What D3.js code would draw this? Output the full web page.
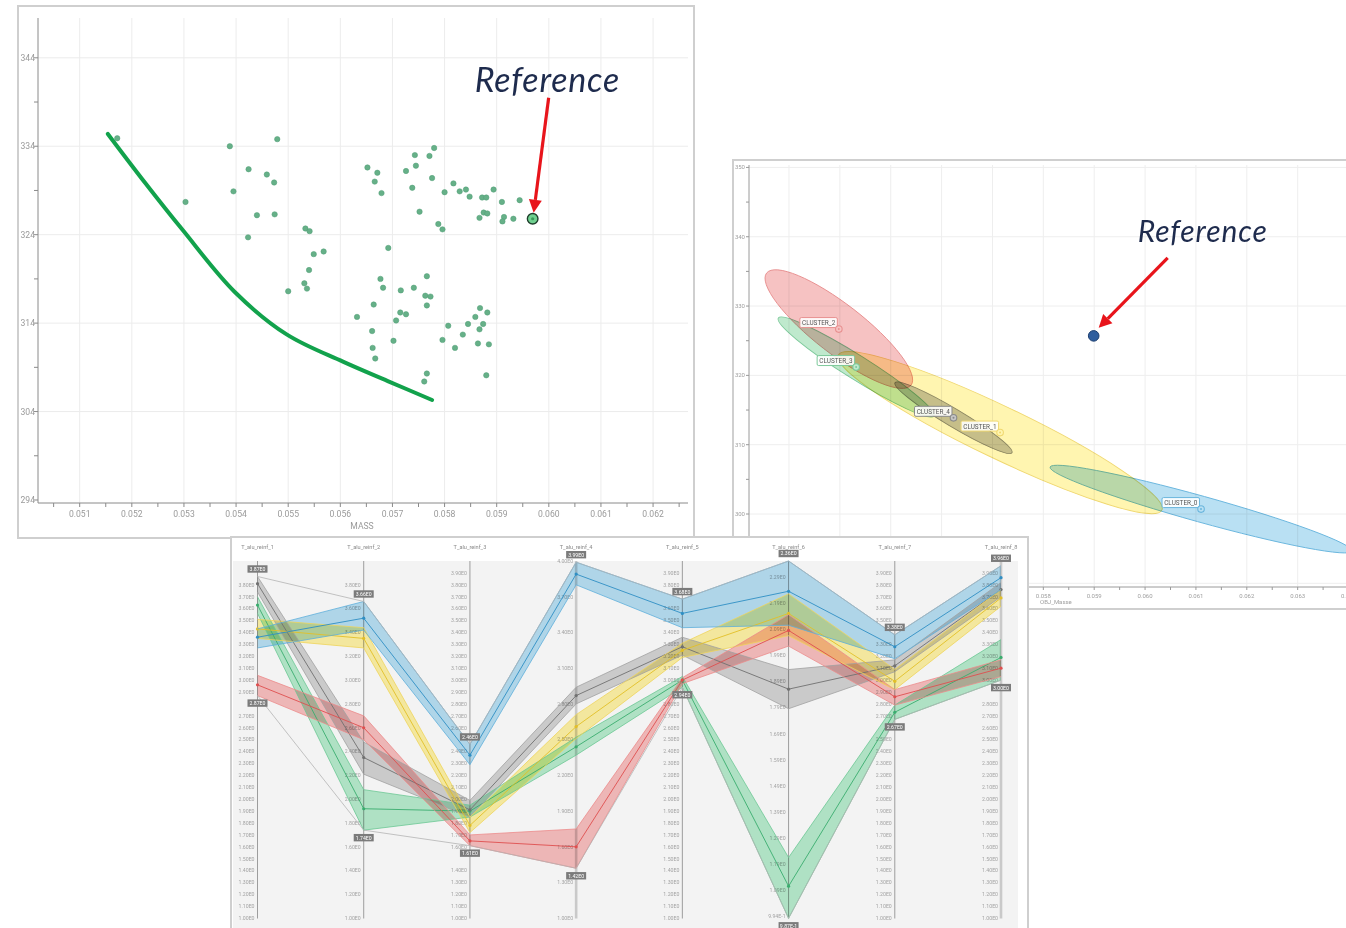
<!DOCTYPE html>
<html><head><meta charset="utf-8">
<script src="https://cdn.jsdelivr.net/npm/d3@7/dist/d3.min.js"></script>
<style>
body{margin:0;background:#fff;}
svg{display:block;font-family:Roboto,"Liberation Sans",sans-serif;}
</style></head><body>
<svg id="c" width="1346" height="928"></svg>
<script>
// ---------------- Panel A data (MASS vs temperature scatter) ----------------
const scatterMass = [0.05172,0.05303,0.05388,0.05395,0.05424,0.05423,0.0544,0.05459,0.05473,0.05474,0.05479,0.05533,0.05541,0.05549,0.05568,0.0554,0.05531,0.05536,0.055,0.05652,0.05671,0.05666,0.05679,0.05726,0.05743,0.05745,0.05738,0.05771,0.0578,0.05776,0.05752,0.058,0.05817,0.05829,0.05841,0.05848,0.05788,0.05796,0.05872,0.0588,0.05894,0.0591,0.05944,0.05875,0.05882,0.05867,0.05914,0.05911,0.05932,0.05692,0.05677,0.05682,0.05766,0.05763,0.05773,0.05766,0.05741,0.05716,0.05664,0.05632,0.05715,0.05726,0.05707,0.05661,0.05702,0.05662,0.05667,0.05766,0.05761,0.05796,0.05807,0.0582,0.05835,0.05845,0.05859,0.05868,0.05882,0.05874,0.05867,0.05864,0.05885,0.0588];
const scatterTemp = [334.9,327.7,334.0,328.9,331.4,323.7,326.2,330.8,329.9,326.3,334.8,324.7,324.4,321.8,322.1,320.0,318.5,317.9,317.6,331.6,331.0,330.0,328.7,331.2,333.0,331.8,329.3,332.9,333.8,330.4,326.6,328.8,329.8,328.9,329.1,328.3,325.2,324.6,328.2,328.2,329.1,327.7,327.9,326.5,326.4,325.9,326.0,325.5,325.8,322.5,319.0,318.0,319.3,317.1,317.0,316.0,318.0,317.7,316.1,314.7,315.2,315.0,314.3,313.1,312.0,311.2,310.0,308.3,307.4,312.1,313.7,311.2,312.7,313.9,314.7,315.7,315.2,313.9,313.3,311.7,311.6,308.1];
const frontMass = [0.05154,0.05225,0.05298,0.05397,0.05497,0.05605,0.05691,0.05776];
const frontTemp = [335.39,329.9,324.49,317.55,312.72,309.64,307.45,305.31];
const refMassA = 0.05969, refTempA = 325.8;
const massTicksA = [0.051,0.052,0.053,0.054,0.055,0.056,0.057,0.058,0.059,0.060,0.061,0.062];
const tempTicksA = [294,304,314,324,334,344];
const xLabelA = "MASS";

// ---------------- Panel B data (cluster ellipses) ----------------
const clusterNames = ["CLUSTER_0","CLUSTER_1","CLUSTER_2","CLUSTER_3","CLUSTER_4"];
const clusterMass = [0.0611,0.05715,0.05398,0.05432,0.056234];
const clusterTemp = [300.71,311.75,326.68,321.2,313.88];
const clusterAxisEndMass = [0.064068,0.06033,0.0554,0.05585,0.057384];
const clusterAxisEndTemp = [294.65,300.56,318.6,314.13,308.83];
const clusterMinorRatio = [0.083,0.145,0.27,0.13,0.13];
const refMassB = 0.05899, refTempB = 325.7;
const massTicksB = [0.053,0.054,0.055,0.056,0.057,0.058,0.059,0.060,0.061,0.062,0.063,0.064];
const tempTicksB = [290,300,310,320,330,340,350];
const xLabelB = "OBJ_Masse";

// ---------------- Panel C data (parallel coordinates per cluster) ----------------
const pcAxes = ["T_alu_reinf_1","T_alu_reinf_2","T_alu_reinf_3","T_alu_reinf_4","T_alu_reinf_5","T_alu_reinf_6","T_alu_reinf_7","T_alu_reinf_8"];
const pcDomainMin = [1,1,1,1,1,0.987,1,1];
const pcDomainMax = [4,4,4,4,4,2.356,4,4];
const pcTickFirst = [1,1,1,1,1,0.994,1,1];
const pcTickStep = [0.1,0.2,0.1,0.3,0.1,0.1,0.1,0.1];
const pcTickCount = [30,15,30,11,30,14,30,30];
// cluster 0 (blue)
const c0Low  = [3.27,3.42,2.29,3.80,3.44,2.11,3.18,3.76];
const c0Mean = [3.36,3.52,2.37,3.89,3.56,2.24,3.28,3.86];
const c0High = [3.43,3.66,2.46,3.99,3.68,2.356,3.38,3.96];
// cluster 1 (yellow)
const c1Low  = [3.35,3.27,1.72,2.51,3.19,2.07,2.92,3.62];
const c1Mean = [3.43,3.35,1.78,2.61,3.25,2.155,2.99,3.69];
const c1High = [3.51,3.44,1.85,2.71,3.31,2.23,3.09,3.76];
// cluster 2 (red)
const c2Low  = [2.87,2.50,1.61,1.42,2.97,2.03,2.79,3.03];
const c2Mean = [2.96,2.60,1.65,1.60,3.00,2.09,2.86,3.10];
const c2High = [3.04,2.70,1.70,1.75,3.02,2.15,2.92,3.17];
// cluster 3 (green)
const c3Low  = [3.56,1.74,1.85,2.37,2.94,0.987,2.67,3.00];
const c3Mean = [3.63,1.92,1.90,2.44,3.00,1.11,2.73,3.19];
const c3High = [3.70,2.08,1.95,2.52,3.03,1.22,2.79,3.34];
// cluster 4 (gray)
const c4Low  = [3.74,2.21,1.85,2.80,3.21,1.79,3.07,3.70];
const c4Mean = [3.81,2.35,1.91,2.87,3.28,1.865,3.12,3.76];
const c4High = [3.87,2.48,1.99,2.94,3.36,1.94,3.17,3.82];

// ---------------- styles ----------------
const ellFill   = ["#b9e0f3","#fff5b0","#f6c2c2","#bfe9cd","#c6c6c6"];
const ellStroke = ["#6ab6dd","#f0d870","#e89090","#7cc99a","#8a8a8a"];
const bandFill  = ["#b8e0f4","#fff3a6","#f9bfbf","#b8ecce","#d4d4d4"];
const bandStroke= ["#5eafdb","#efd45c","#ec8c8c","#6cc894","#a2a2a2"];
const meanStroke= ["#2f8fc4","#e2bf28","#df4f4f","#3aad6e","#707070"];
const refText = "Reference";
const panelCRight = 1028;

const svg = d3.select("#c");
const fmtE = v => v.toExponential(2).replace("e+","E").replace("e-","E-");

function arrow(g, x1, y1, x2, y2){
  const ang = Math.atan2(y2-y1, x2-x1);
  const hl = 13, hw = 6.5;
  const bx = x2 - hl*Math.cos(ang), by = y2 - hl*Math.sin(ang);
  g.append("line").attr("x1",x1).attr("y1",y1).attr("x2",bx).attr("y2",by)
    .attr("stroke","#e8141b").attr("stroke-width",3.2);
  const px = -Math.sin(ang), py = Math.cos(ang);
  g.append("path").attr("d",`M${x2},${y2}L${bx+px*hw},${by+py*hw}L${bx-px*hw},${by-py*hw}Z`).attr("fill","#e8141b");
}

// ================= Panel B =================
const gB = svg.append("g");
gB.append("rect").attr("x",733).attr("y",160).attr("width",650).attr("height",449)
  .attr("fill","#fff").attr("stroke","#cfcfcf").attr("stroke-width",2);
const xB = d3.scaleLinear().domain([0.052214,0.06395]).range([749,1346]);
const yB = d3.scaleLinear().domain([289.47,350.35]).range([587,165]);
gB.selectAll(".vg").data(massTicksB).join("line").attr("x1",d=>xB(d)).attr("x2",d=>xB(d))
  .attr("y1",165).attr("y2",587).attr("stroke","#eeeeee");
gB.selectAll(".hg").data(tempTicksB).join("line").attr("x1",749).attr("x2",1346)
  .attr("y1",d=>yB(d)).attr("y2",d=>yB(d)).attr("stroke","#eeeeee");
gB.append("line").attr("x1",749).attr("x2",749).attr("y1",165).attr("y2",587).attr("stroke","#9a9a9a");
gB.append("line").attr("x1",749).attr("x2",1346).attr("y1",587).attr("y2",587).attr("stroke","#9a9a9a");
d3.range(23).map(k=>0.0525+k*0.0005).forEach(v=>{
  gB.append("line").attr("x1",xB(v)).attr("x2",xB(v)).attr("y1",587).attr("y2",590).attr("stroke","#9a9a9a");
});
d3.range(13).map(k=>290+k*5).forEach(v=>{
  gB.append("line").attr("x1",746).attr("x2",749).attr("y1",yB(v)).attr("y2",yB(v)).attr("stroke","#9a9a9a");
});
// only the labels not hidden under panel C are drawn
gB.selectAll(".xl").data(massTicksB.filter(d=>xB(d)>panelCRight+8)).join("text").attr("x",d=>xB(d)).attr("y",598)
  .attr("text-anchor","middle").attr("font-size",6).attr("fill","#a0a0a0").text(d=>d.toFixed(3));
gB.selectAll(".yl").data(tempTicksB.filter(d=>yB(d)<530)).join("text").attr("x",745).attr("y",d=>yB(d)+2)
  .attr("text-anchor","end").attr("font-size",6).attr("fill","#a0a0a0").text(d=>d);
gB.append("text").attr("x",1040).attr("y",604).attr("font-size",6).attr("fill","#a0a0a0").text(xLabelB);

const ellOrder = [1,0,2,3,4];
ellOrder.forEach(i=>{
  const cx = xB(clusterMass[i]), cy = yB(clusterTemp[i]);
  const ex = xB(clusterAxisEndMass[i]), ey = yB(clusterAxisEndTemp[i]);
  const a = Math.hypot(ex-cx, ey-cy);
  const ang = Math.atan2(ey-cy, ex-cx)*180/Math.PI;
  gB.append("ellipse").attr("cx",0).attr("cy",0).attr("rx",a).attr("ry",a*clusterMinorRatio[i])
    .attr("transform",`translate(${cx},${cy}) rotate(${ang})`)
    .attr("fill",ellFill[i]).attr("stroke",ellStroke[i]).attr("stroke-width",0.9)
    .style("mix-blend-mode","multiply");
});
clusterNames.forEach((n,i)=>{
  const cx = xB(clusterMass[i]), cy = yB(clusterTemp[i]);
  gB.append("rect").attr("x",cx-39).attr("y",cy-11.5).attr("width",37.5).attr("height",10).attr("rx",1.5)
    .attr("fill","#ffffff").attr("fill-opacity",0.88).attr("stroke",ellStroke[i]).attr("stroke-width",1);
  gB.append("text").attr("x",cx-20.2).attr("y",cy-4).attr("text-anchor","middle").attr("font-size",6.4)
    .attr("fill","#555").text(n);
  gB.append("circle").attr("cx",cx).attr("cy",cy).attr("r",3.3).attr("fill",ellFill[i]).attr("stroke",ellStroke[i]).attr("stroke-width",1.1);
  gB.append("circle").attr("cx",cx).attr("cy",cy).attr("r",1).attr("fill",ellStroke[i]);
});
{
  const rx = xB(refMassB), ry = yB(refTempB);
  gB.append("circle").attr("cx",rx).attr("cy",ry).attr("r",5.3).attr("fill","#2f5e9e").attr("stroke","#1d3f70").attr("stroke-width",1);
  arrow(gB, rx+74, ry-78, rx+5, ry-8);
  gB.append("text").attr("x",rx+44).attr("y",ry-94).attr("font-family","Lato, 'Open Sans', sans-serif")
    .attr("font-style","italic").attr("font-size",30).attr("letter-spacing",0.9).attr("fill","#1e2b4d").text(refText);
}

// ================= Panel A =================
const gA = svg.append("g");
gA.append("rect").attr("x",18).attr("y",6).attr("width",676).attr("height",532)
  .attr("fill","#fff").attr("stroke","#cfcfcf").attr("stroke-width",2);
const xA = d3.scaleLinear().domain([0.0502,0.06267]).range([38,688]);
const yA = d3.scaleLinear().domain([293.66,348.5]).range([503,18]);
gA.selectAll(".vg").data(massTicksA).join("line").attr("x1",d=>xA(d)).attr("x2",d=>xA(d))
  .attr("y1",18).attr("y2",503).attr("stroke","#ececec");
gA.selectAll(".hg").data(tempTicksA.slice(1)).join("line").attr("x1",38).attr("x2",688)
  .attr("y1",d=>yA(d)).attr("y2",d=>yA(d)).attr("stroke","#ececec");
gA.append("line").attr("x1",38).attr("x2",38).attr("y1",18).attr("y2",503).attr("stroke","#8a8a8a");
gA.append("line").attr("x1",38).attr("x2",688).attr("y1",503).attr("y2",503).attr("stroke","#8a8a8a");
d3.range(25).map(k=>0.0505+k*0.0005).forEach(v=>{
  gA.append("line").attr("x1",xA(v)).attr("x2",xA(v)).attr("y1",503).attr("y2",507).attr("stroke","#8a8a8a");
});
d3.range(11).map(k=>294+k*5).forEach(v=>{
  gA.append("line").attr("x1",34).attr("x2",38).attr("y1",yA(v)).attr("y2",yA(v)).attr("stroke","#8a8a8a");
});
gA.selectAll(".xl").data(massTicksA).join("text").attr("x",d=>xA(d)).attr("y",517)
  .attr("text-anchor","middle").attr("font-size",8.6).attr("fill","#9a9a9a").text(d=>d.toFixed(3));
gA.selectAll(".yl").data(tempTicksA).join("text").attr("x",35).attr("y",d=>yA(d)+3)
  .attr("text-anchor","end").attr("font-size",8.6).attr("fill","#9a9a9a").text(d=>d);
gA.append("text").attr("x",362).attr("y",529).attr("text-anchor","middle").attr("font-size",8.6).attr("fill","#9a9a9a").text(xLabelA);

gA.selectAll(".pt").data(scatterMass).join("circle").attr("cx",d=>xA(d)).attr("cy",(d,i)=>yA(scatterTemp[i]))
  .attr("r",2.7).attr("fill","#66b088").attr("stroke","#4f9c74").attr("stroke-width",0.5);
gA.append("path").attr("d", d3.line().curve(d3.curveCatmullRom.alpha(0.5))(frontMass.map((m,i)=>[xA(m), yA(frontTemp[i])])))
  .attr("fill","none").attr("stroke","#12a24c").attr("stroke-width",4).attr("stroke-linecap","round");
{
  const rx = xA(refMassA), ry = yA(refTempA);
  gA.append("circle").attr("cx",rx).attr("cy",ry).attr("r",5.3).attr("fill","#6fd08f").attr("stroke","#1f3f2c").attr("stroke-width",1.4);
  gA.append("circle").attr("cx",rx).attr("cy",ry).attr("r",1.6).attr("fill","#3a9a5a");
  arrow(gA, rx+16, ry-121, rx+1, ry-6);
  gA.append("text").attr("x",rx-58).attr("y",ry-127).attr("font-family","Lato, 'Open Sans', sans-serif")
    .attr("font-style","italic").attr("font-size",34).attr("letter-spacing",0.8).attr("fill","#1e2b4d").text(refText);
}

// ================= Panel C =================
const gC = svg.append("g");
gC.append("rect").attr("x",231).attr("y",537).attr("width",panelCRight-231).attr("height",400)
  .attr("fill","#fff").attr("stroke","#cfcfcf").attr("stroke-width",2);
gC.append("rect").attr("x",233).attr("y",561).attr("width",785).attr("height",367).attr("fill","#f3f3f3");
const xC = d3.scalePoint().domain(pcAxes).range([257.5,1001]);
const yC = pcAxes.map((a,i)=>d3.scaleLinear().domain([pcDomainMin[i],pcDomainMax[i]]).range([918.3,561]));

const lows = [c0Low,c1Low,c2Low,c3Low,c4Low];
const means = [c0Mean,c1Mean,c2Mean,c3Mean,c4Mean];
const highs = [c0High,c1High,c2High,c3High,c4High];
const envMax = pcAxes.map((a,i)=>d3.max(highs, h=>h[i]));
const envMin = pcAxes.map((a,i)=>d3.min(lows, l=>l[i]));
const boxOff = 7.5;

pcAxes.forEach((a,i)=>{
  const x = xC(a);
  const wide = (i===3 || i===7);
  gC.append("line").attr("x1",x).attr("x2",x).attr("y1",561).attr("y2",918.5)
    .attr("stroke", wide ? "#c9c9c9" : "#9d9d9d").attr("stroke-width", wide ? 2.6 : 1);
  gC.append("text").attr("x",x).attr("y",548.5).attr("text-anchor","middle").attr("font-size",5.6).attr("fill","#8a8a8a").text(a);
  const boxYs = [yC[i](envMax[i])-boxOff, yC[i](envMin[i])+boxOff];
  d3.range(pcTickCount[i]).map(k=>+(pcTickFirst[i]+k*pcTickStep[i]).toFixed(4)).forEach(v=>{
    const ty = yC[i](v);
    if (boxYs.some(b=>Math.abs(b-ty)<6)) return; // hidden behind the min/max box
    gC.append("text").attr("x",x-3).attr("y",ty+1.8).attr("text-anchor","end")
      .attr("font-size",5.2).attr("fill","#a3a3a3").text(fmtE(v));
  });
});

const line = d3.line();
const pts = arr => arr.map((v,i)=>[xC(pcAxes[i]), yC[i](v)]);
const bandOrder = [3,4,1,2,0];
bandOrder.forEach(c=>{
  const top = pts(highs[c]), bot = pts(lows[c]);
  gC.append("path").attr("d", line(top.concat(bot.slice().reverse()))+"Z")
    .attr("fill",bandFill[c]).attr("stroke","none").style("mix-blend-mode","multiply");
});
bandOrder.forEach(c=>{
  [highs[c], lows[c]].forEach(arr=>{
    gC.append("path").attr("d",line(pts(arr))).attr("fill","none").attr("stroke",bandStroke[c]).attr("stroke-width",0.8);
  });
  gC.append("path").attr("d",line(pts(means[c]))).attr("fill","none").attr("stroke",meanStroke[c]).attr("stroke-width",0.9);
  pts(means[c]).forEach(p=>{
    gC.append("circle").attr("cx",p[0]).attr("cy",p[1]).attr("r",1.6).attr("fill",meanStroke[c]);
  });
});
[envMax, envMin].forEach(env=>{
  gC.append("path").attr("d",line(pts(env))).attr("fill","none").attr("stroke","#b4b4b4").attr("stroke-width",0.8);
});
pcAxes.forEach((a,i)=>{
  const x = xC(a);
  [[envMax[i],-boxOff],[envMin[i],boxOff]].forEach(([v,off])=>{
    const y = yC[i](v)+off;
    gC.append("rect").attr("x",x-10).attr("y",y-3.7).attr("width",20).attr("height",7.4).attr("fill","#7b7b7b");
    gC.append("text").attr("x",x).attr("y",y+1.9).attr("text-anchor","middle").attr("font-size",5.2).attr("fill","#fff").text(fmtE(v));
  });
});
</script>
</body></html>
